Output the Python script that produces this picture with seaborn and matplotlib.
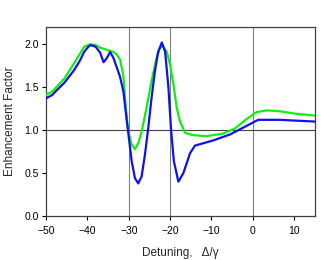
import matplotlib
matplotlib.use("Agg")
import matplotlib.pyplot as plt
import seaborn as sns
import pandas as pd

blue_x = [-50, -48.5, -47.5, -45.6, -43.2, -41.8, -40.8, -39.8, -39.2, -38.0, -36.9, -36.1, -35.3,
          -34.5, -33.7, -32.9, -32.1, -31.3, -30.5, -30.1, -29.3, -28.5, -27.7, -26.9, -26.1,
          -25.3, -24.5, -23.7, -22.9, -22.0, -21.2, -20.4, -19.8, -19.1, -18.0, -16.8, -15.6,
          -15.2, -14.0, -9.6, -5.5, -2.3, -0.3, 1.3, 6.5, 15.0]
blue_y = [1.37, 1.41, 1.46, 1.55, 1.70, 1.81, 1.91, 1.97, 1.99, 1.97, 1.90, 1.79, 1.84,
          1.91, 1.84, 1.73, 1.62, 1.45, 1.12, 0.96, 0.64, 0.44, 0.38, 0.46, 0.71,
          1.02, 1.37, 1.68, 1.91, 2.02, 1.91, 1.49, 1.02, 0.64, 0.40, 0.50, 0.67,
          0.73, 0.82, 0.88, 0.95, 1.03, 1.08, 1.12, 1.12, 1.10]

green_x = [-50, -48.5, -47.5, -45.6, -43.2, -41.8, -40.8, -39.4, -38.0, -36.9, -35.0, -33.7,
           -32.9, -32.1, -31.3, -30.7, -30.1, -29.3, -28.5, -27.7, -26.9, -25.7, -24.5, -23.3,
           -22.5, -21.8, -20.8, -20.0, -19.2, -18.4, -17.6, -16.4, -15.2, -14.0, -11.2, -7.2,
           -4.3, -1.5, 0.9, 3.3, 6.5, 10.6, 15.0]
green_y = [1.41, 1.45, 1.50, 1.60, 1.78, 1.89, 1.97, 2.00, 1.99, 1.96, 1.93, 1.91,
           1.88, 1.82, 1.63, 1.25, 0.98, 0.83, 0.78, 0.85, 0.98, 1.26, 1.57, 1.84,
           1.95, 1.98, 1.91, 1.76, 1.53, 1.26, 1.10, 0.97, 0.95, 0.94, 0.93, 0.96,
           1.02, 1.13, 1.21, 1.23, 1.22, 1.19, 1.17]

x_ticks = [-50, -40, -30, -20, -10, 0, 10]
y_ticks = [0.0, 0.5, 1.0, 1.5, 2.0]
vlines = [-30, -20, 0]
hline = 1.0

df = pd.concat([
    pd.DataFrame({"x": blue_x, "y": blue_y, "s": "blue"}),
    pd.DataFrame({"x": green_x, "y": green_y, "s": "green"}),
])

sns.set_theme(style="white")
plt.rcParams['font.family'] = ['Liberation Sans', 'DejaVu Sans']

fig = plt.figure(figsize=(3.29, 2.60), dpi=100)
ax = fig.add_axes([0.140, 0.169, 0.817, 0.727])

for v in vlines:
    ax.axvline(v, color="#808080", lw=0.8, zorder=1)
ax.axhline(hline, color="#404040", lw=0.8, zorder=1)

sns.lineplot(data=df, x="x", y="y", hue="s", palette={"blue": "#1010F0", "green": "#10F010"},
             hue_order=["green", "blue"], lw=1.6, legend=False, ax=ax, zorder=3, sort=False)
for ln in ax.get_lines():
    ln.set_solid_joinstyle("round")

ax.set_xlim(-50, 15)
ax.set_ylim(0, 2.2)
ax.set_xticks(x_ticks)
ax.set_yticks(y_ticks)
ax.set_yticklabels([f"{t:.1f}" for t in y_ticks])
ax.tick_params(axis="both", direction="out", length=3, width=0.8, labelsize=7.5,
               colors="#000000", pad=2, bottom=True, left=True)
ax.tick_params(axis="x", pad=4)
for sp in ax.spines.values():
    sp.set_color("#404040")
    sp.set_linewidth(0.9)

ax.set_xlabel("Detuning,   Δ/γ", fontsize=8.5, labelpad=8)
ax.set_ylabel("Enhancement Factor", fontsize=8.5, labelpad=6)

fig.savefig("out.png", dpi=100)
